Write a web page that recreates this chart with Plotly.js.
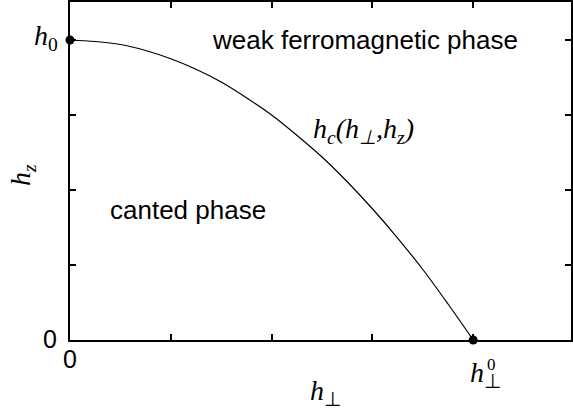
<!DOCTYPE html>
<html>
<head>
<meta charset="utf-8">
<script src="https://cdn.plot.ly/plotly-3.0.1.min.js"></script>
<style>html,body{margin:0;padding:0;background:#fff;}#chart{width:573px;height:412px;}</style>
</head>
<body>
<div id="chart"></div>
<script>
// Phase boundary h_c(h_perp, h_z)
var hPerp = [0, 0.25, 0.5, 0.75, 1.0, 1.25, 1.5, 1.75, 2.0, 2.25, 2.5, 2.75, 3.0, 3.25, 3.5, 3.75, 4.0];
var hZ    = [4.0, 3.98, 3.94, 3.86, 3.75, 3.61, 3.44, 3.23, 3.0, 2.73, 2.44, 2.11, 1.75, 1.36, 0.94, 0.48, 0.0];
var xTicks = [0, 1, 2, 3, 4];
var yTicks = [0, 1, 2, 3, 4];
var regionLabels = ['weak ferromagnetic phase', 'canted phase'];
var curveLabel = '<i>h<sub>c</sub>(h<sub>⊥</sub>,h<sub>z</sub>)</i>';
var xTitle = '<i>h</i><sub>⊥</sub>';
var yTitle = '<i>h<sub>z</sub></i>';

var serif = 'Liberation Serif, Times New Roman, serif';
var sans = 'Liberation Sans, Arial, sans-serif';

var curve = {
  x: hPerp, y: hZ, mode: 'lines', type: 'scatter',
  line: {color: '#000', width: 1.2, shape: 'spline'},
  hoverinfo: 'skip', showlegend: false
};
var ends = {
  x: [hPerp[0], hPerp[hPerp.length - 1]],
  y: [hZ[0], hZ[hZ.length - 1]],
  mode: 'markers', type: 'scatter',
  marker: {color: '#000', size: 9},
  cliponaxis: false, hoverinfo: 'skip', showlegend: false
};

var axisCommon = {
  showgrid: false, zeroline: false, showline: true, linecolor: '#000', linewidth: 2,
  mirror: 'ticks', ticks: 'inside', ticklen: 6, tickwidth: 2, tickcolor: '#000',
  showticklabels: false, fixedrange: true
};

var layout = {
  width: 573, height: 412,
  margin: {l: 70, r: 2, t: 2, b: 72},
  paper_bgcolor: '#fff', plot_bgcolor: '#fff',
  xaxis: Object.assign({}, axisCommon, {range: [0, 4.97], tickvals: xTicks}),
  yaxis: Object.assign({}, axisCommon, {range: [0, 4.507], tickvals: yTicks}),
  annotations: [
    {xref: 'paper', yref: 'paper', x: 0.51, y: -0.098, text: xTitle, showarrow: false,
     xanchor: 'center', yanchor: 'top', font: {family: serif, size: 28, color: '#000'}},
    {xref: 'paper', yref: 'paper', x: -0.096, y: 0.488, text: yTitle, showarrow: false, textangle: -90,
     xanchor: 'center', yanchor: 'middle', font: {family: serif, size: 28, color: '#000'}},
    {xref: 'x', yref: 'y', x: xTicks[0], y: yTicks[0], text: '0', showarrow: false,
     xanchor: 'right', yanchor: 'middle', xshift: -11, yshift: 1, font: {family: sans, size: 25, color: '#000'}},
    {xref: 'x', yref: 'y', x: xTicks[0], y: yTicks[0], text: '0', showarrow: false,
     xanchor: 'center', yanchor: 'top', yshift: -3, font: {family: sans, size: 25, color: '#000'}},
    {xref: 'x', yref: 'y', x: xTicks[0], y: yTicks[4], text: '<i>h</i><sub>0</sub>', showarrow: false,
     xanchor: 'right', yanchor: 'middle', xshift: -10, yshift: 3, font: {family: serif, size: 28, color: '#000'}},
    {xref: 'x', yref: 'y', x: xTicks[4], y: yTicks[0], text: '<i>h</i><sub>⊥</sub>', showarrow: false,
     xanchor: 'center', yanchor: 'top', xshift: 12, yshift: -15, font: {family: serif, size: 28, color: '#000'}},
    {xref: 'x', yref: 'y', x: xTicks[4], y: yTicks[0], text: '0', showarrow: false,
     xanchor: 'center', yanchor: 'middle', xshift: 18, yshift: -24, font: {family: serif, size: 17, color: '#000'}},
    {xref: 'paper', yref: 'paper', x: 0.589, y: 0.888, text: regionLabels[0], showarrow: false,
     xanchor: 'center', yanchor: 'middle', font: {family: sans, size: 26, color: '#000'}},
    {xref: 'paper', yref: 'paper', x: 0.236, y: 0.385, text: regionLabels[1], showarrow: false,
     xanchor: 'center', yanchor: 'middle', font: {family: sans, size: 26, color: '#000'}},
    {xref: 'paper', yref: 'paper', x: 0.585, y: 0.62, text: curveLabel, showarrow: false,
     xanchor: 'center', yanchor: 'middle', font: {family: serif, size: 28, color: '#000'}}
  ]
};

Plotly.newPlot('chart', [curve, ends], layout, {staticPlot: true, displayModeBar: false});
</script>
</body>
</html>
